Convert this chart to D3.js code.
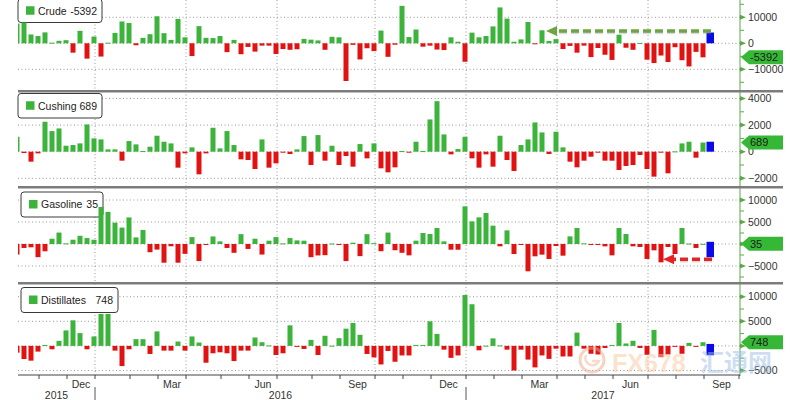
<!DOCTYPE html>
<html><head><meta charset="utf-8">
<script src="https://cdn.jsdelivr.net/npm/d3@7"></script>
<style>body{margin:0;background:#fff}svg{display:block}</style>
</head><body>
<svg id="c" width="800" height="400"></svg>
<script>
// ---------- DATA (weekly changes, thousand barrels; week-ending Fridays) ----------
const firstWeek = "2015-10-09";   // first (partly clipped) bar
const lastWeek  = "2017-08-25";   // latest report
const extraWeek = "2017-09-01";   // blue marker bar

const crude = [7600,
 8000,3400,2800,4200,250,960,1200,-3600,4800,-5900,
 2600,-5100,230,4000,8400,7800,-750,2100,3500,10400,
 3900,1300,9400,2300,-4900,6600,2100,2000,2800,-3400,
 1300,-4200,-1400,-3200,-900,-900,-4100,-2200,-2500,-2300,
 1700,1400,1100,-2500,2500,2300,-14500,-600,-6200,-1900,
 -3000,4900,-5200,-550,14400,2400,5300,-1300,-900,-2400,
 -2600,2300,600,-7100,4100,2300,2800,6500,13800,9500,
 600,1500,8200,-200,5000,900,1600,-2200,-1000,-3600,
 -900,-5300,-1800,-4400,-6400,3300,-1700,-2500,100,-6300,
 -7600,-4700,-7200,-1500,-6500,-8900,-3300,-5392];

const cushing = [1125,
 -100,-750,-125,2250,1550,1750,450,500,625,2050,
 1000,925,175,175,-675,800,550,50,375,1200,
 750,625,-1200,-125,325,-1700,-125,1800,250,1550,
 500,-575,-625,-1300,925,-1200,-875,-50,-175,175,
 1175,-1000,1250,-675,450,-1000,-325,-1125,575,-500,
 625,-1250,-1550,-1175,50,-50,750,50,2425,3800,
 1300,-200,200,1125,-500,-1200,-200,-1125,1200,-625,
 -1450,500,925,2200,1450,-175,1500,325,-750,-1175,
 -675,-375,-25,-675,-675,-1375,-1075,-1000,-250,-1300,
 -1875,-25,-1625,25,625,750,-450,689];

const gasoline = [-2400,
 -900,-750,-3000,-1650,1200,2600,150,970,1870,1350,
 970,8430,7300,4850,3730,6040,1500,3200,-1870,-1270,
 -4250,-520,-4250,-2240,1570,-3880,-100,1720,600,-900,
 -2000,2240,-1120,1200,-2400,750,1570,150,1350,820,
 750,-3000,-2600,-2540,100,-200,-3880,300,-2760,2240,
 200,-1640,2600,-1420,-2000,-2580,760,2500,2270,3640,
 600,-1300,-1300,8560,5150,6060,7050,4170,-530,3100,
 -2270,-150,-6200,-2800,-2420,-3400,-450,-2650,1740,3640,
 150,-150,-200,-530,-2580,3640,2270,-530,-680,-3400,
 -1440,-4170,-680,-2270,3640,100,-900,35];

const distillates = [-1370,
 -2670,-3000,-1160,200,-690,1030,3150,5200,2600,-690,
 1920,6500,6500,-960,-4100,-690,1370,1370,-1640,2950,
 -960,-960,890,-960,1920,685,-3420,-1500,-1300,-1500,
 -3080,-960,-960,1710,750,100,-1850,-1500,4180,-100,
 -620,1230,-1850,2050,50,1575,3500,4660,2260,-1640,
 -2330,-3770,-1030,-3220,-1940,-1940,200,200,5000,2430,
 -760,-2430,-1940,10340,8470,-900,50,1530,100,-760,
 -5000,-760,-2780,-4370,-1940,-2640,-560,-2150,-2150,2700,
 -560,-1600,-1740,-420,200,4650,490,1040,-420,-1800,
 3260,-2290,-1740,-100,-1600,620,-100,748];

const seriesNames = ["Crude","Cushing","Gasoline","Distillates"];
const lastLabels  = ["-5392","689","35","748"];
const blueLo = [0, 0, -3000, -1900];
const blueHi = [4150, 750, 500, 400];
const majorTicks = [[10000,0,-10000],[4000,2000,0,-2000],[10000,5000,0,-5000],[10000,5000,0,-5000]];
const minorTicks = [[15000,5000,-5000,-15000],[3000,1000,-1000],[7500,2500,-2500,-7500],[7500,2500,-2500]];
const arrowNotes = [
  {panel:0, from:"2017-09-02", to:"2017-03-21", value:4750, color:"#6da544"},
  {panel:2, from:"2017-09-03", to:"2017-07-16", value:-3460, color:"#e42424"}
];

// ---------- LAYOUT ----------
const FONT = "'Liberation Sans', Arial, sans-serif";
const X0 = 18, X1 = 740;
const panelBox = [
  {top:0,   bottom:90,  dom:[-10000,10000], rng:[69.3,17.3], leg:{x:18,y:-1,w:84,h:23.5}},
  {top:93,  bottom:186, dom:[-2000,4000],  rng:[178.3,98.5], leg:{x:18,y:93.5,w:84,h:24.5}},
  {top:189, bottom:282, dom:[-5000,10000], rng:[266,200],    leg:{x:21,y:192,w:82,h:25}},
  {top:285, bottom:375, dom:[-5000,10000], rng:[370.5,296.7],leg:{x:21,y:287.5,w:97,h:25}}
];
const GREEN = "#3cb43c", RED = "#e01212", BLUE = "#0a0ae6", AXG = "#5aa84a";

const svg = d3.select("#c");
const pd = d3.utcParse("%Y-%m-%d");
const x = d3.scaleUtc().domain([new Date(Date.UTC(2015,9,10)), new Date(Date.UTC(2017,9,1))]).range([X0, X1]);
const weeks = d3.utcFriday.range(pd(firstWeek), d3.utcDay.offset(pd(lastWeek),1));
const snap = d => d3.utcDay.offset(d3.utcFriday.floor(new Date(+d - 1)), 1);

const defs = svg.append("defs");
panelBox.forEach((p,i)=>{
  defs.append("clipPath").attr("id","clip"+i).append("rect")
    .attr("x",X0).attr("y",p.top).attr("width",X1-X0).attr("height",p.bottom-p.top);
});

// vertical gridlines at quarter starts (snapped to last weekly point)
const quarters = d3.utcMonth.every(3).range(x.domain()[0], new Date(Date.UTC(2017,8,1)));
svg.append("g").selectAll("line").data(quarters).join("line")
  .attr("x1",d=>x(snap(d))).attr("x2",d=>x(snap(d)))
  .attr("y1",0).attr("y2",375)
  .attr("stroke","#9a9a9a").attr("stroke-width",1).attr("stroke-dasharray","1,2.5");

const allSeries = [crude, cushing, gasoline, distillates];

panelBox.forEach((p,i)=>{
  const y = d3.scaleLinear().domain(p.dom).range(p.rng);
  const g = svg.append("g");
  // horizontal gridlines
  g.selectAll("line.h").data(majorTicks[i]).join("line")
    .attr("x1",X0).attr("x2",X1).attr("y1",d=>y(d)).attr("y2",d=>y(d))
    .attr("stroke","#9a9a9a").attr("stroke-dasharray","1,2.5");
  // legend box (under bars)
  const L = p.leg;
  g.append("rect").attr("x",L.x).attr("y",L.y).attr("width",L.w).attr("height",L.h)
    .attr("rx",3).attr("fill","#fff").attr("stroke","#3a3a3a").attr("stroke-width",1);
  g.append("rect").attr("x",L.x+8).attr("y",L.y+L.h/2-4.5).attr("width",8.5).attr("height",8.5).attr("fill",GREEN);
  g.append("text").attr("x",L.x+20).attr("y",L.y+L.h/2+3.8).attr("font-family",FONT).attr("font-size",10.5)
    .attr("fill","#222").text(seriesNames[i]);
  g.append("text").attr("x",L.x+L.w-5).attr("y",L.y+L.h/2+3.8).attr("text-anchor","end")
    .attr("font-family",FONT).attr("font-size",10.5).attr("fill","#222").text(lastLabels[i]);
  // bars
  const bars = svg.append("g").attr("clip-path","url(#clip"+i+")");
  bars.selectAll("rect").data(allSeries[i].map((v,k)=>({v, d:weeks[k]}))).join("rect")
    .attr("x",d=>x(d.d)-2.5).attr("width",5)
    .attr("y",d=>Math.min(y(d.v),y(0)))
    .attr("height",d=>Math.max(1,Math.abs(y(d.v)-y(0))))
    .attr("fill",d=>d.v>=0?GREEN:RED);
  bars.append("rect").attr("x",x(pd(extraWeek))-3.5).attr("width",7.5)
    .attr("y",y(blueHi[i])).attr("height",y(blueLo[i])-y(blueHi[i])).attr("fill",BLUE);
  // right axis ticks
  const vy = y(+lastLabels[i]);
  const ax = svg.append("g");
  ax.selectAll("path.maj").data(majorTicks[i]).join("path")
    .attr("d",d=>`M${X1},${y(d)-2.5}L${X1+6},${y(d)}L${X1},${y(d)+2.5}Z`).attr("fill",AXG);
  ax.selectAll("line.min").data(minorTicks[i].filter(v=>y(v)>p.top && y(v)<p.bottom)).join("line")
    .attr("x1",X1).attr("x2",X1+4).attr("y1",d=>y(d)).attr("y2",d=>y(d)).attr("stroke",AXG);
  // tick labels (those fully hidden behind the value tag are not shown, as in the reference)
  ax.selectAll("text").data(majorTicks[i].filter(t=>Math.abs(y(t)-vy)>5)).join("text")
    .attr("x",X1+8).attr("y",d=>y(d)).attr("dy","0.36em")
    .attr("font-family",FONT).attr("font-size",10.5).attr("fill","#333")
    .text(d=>d3.format("d")(d));
  // value tag
  ax.append("path").attr("d",`M${X1+1},${vy}L${X1+9},${vy-7}L${X1+43},${vy-7}L${X1+43},${vy+7}L${X1+9},${vy+7}Z`)
    .attr("fill","#35b835");
  ax.append("text").attr("x",X1+10).attr("y",vy).attr("dy","0.36em")
    .attr("font-family",FONT).attr("font-size",11).attr("fill","#1c1c1c").text(lastLabels[i]);
  // annotation arrows
  arrowNotes.filter(a=>a.panel===i).forEach(a=>{
    const xa = x(pd(a.from)), xb = x(pd(a.to)), ya = y(a.value);
    const an = svg.append("g");
    an.append("line").attr("x1",xa).attr("x2",xb+10).attr("y1",ya+1.5).attr("y2",ya+1.5)
      .attr("stroke","#888").attr("stroke-opacity",0.3).attr("stroke-width",3.5).attr("stroke-dasharray","8,4");
    an.append("line").attr("x1",xa).attr("x2",xb+10).attr("y1",ya).attr("y2",ya)
      .attr("stroke",a.color).attr("stroke-width",3.5).attr("stroke-dasharray","8,4");
    an.append("path").attr("d",`M${xb},${ya}L${xb+11},${ya-5}L${xb+11},${ya+5}Z`).attr("fill",a.color);
  });
});

// right axis line
svg.append("line").attr("x1",X1).attr("x2",X1).attr("y1",0).attr("y2",376).attr("stroke",AXG).attr("stroke-width",1);

// panel separators
svg.append("g").selectAll("line").data(panelBox.slice(1).map(p=>p.top-1.7)).join("line")
  .attr("x1",X0).attr("x2",783).attr("y1",d=>d).attr("y2",d=>d)
  .attr("stroke","#7c7c7c").attr("stroke-width",2.6);

// bottom time axis
const axisY = 375;
svg.append("line").attr("x1",X0).attr("x2",X1).attr("y1",axisY).attr("y2",axisY).attr("stroke","#444");
const months = d3.utcMonth.range(new Date(Date.UTC(2015,10,1)), new Date(Date.UTC(2017,9,2)));
svg.append("g").selectAll("line").data(months).join("line")
  .attr("x1",d=>x(snap(d))).attr("x2",d=>x(snap(d))).attr("y1",axisY).attr("y2",axisY+4).attr("stroke","#444");
const labelMonths = months.filter(m=>[11,2,5,8].includes(m.getUTCMonth()));
svg.append("g").selectAll("text").data(labelMonths).join("text")
  .attr("x",d=>(x(snap(d))+x(snap(d3.utcMonth.offset(d,1))))/2).attr("y",388)
  .attr("text-anchor","middle").attr("font-family",FONT).attr("font-size",10.5).attr("fill","#333")
  .text(d=>d3.utcFormat("%b")(d));
const yearStarts = [new Date(Date.UTC(2016,0,1)), new Date(Date.UTC(2017,0,1))];
const yearEdges = [X0, ...yearStarts.map(d=>x(snap(d))), X1];
const yearLabels = ["2015","2016","2017"];
svg.append("g").selectAll("text").data(yearLabels).join("text")
  .attr("x",(d,i)=>(yearEdges[i]+yearEdges[i+1])/2).attr("y",399)
  .attr("text-anchor","middle").attr("font-family",FONT).attr("font-size",10.5).attr("fill","#333").text(d=>d);
svg.append("g").selectAll("line").data(yearStarts).join("line")
  .attr("x1",d=>x(snap(d))).attr("x2",d=>x(snap(d))).attr("y1",387).attr("y2",400).attr("stroke","#555");

// watermark
const wm = svg.append("g").attr("opacity",0.5);
wm.append("circle").attr("cx",592).attr("cy",360).attr("r",12).attr("fill","none").attr("stroke","#f0a888").attr("stroke-width",3);
wm.append("path").attr("d","M586,355 A7,7 0 1 0 599,361 L592,361").attr("fill","none").attr("stroke","#f0b898").attr("stroke-width",2.5);
wm.append("text").attr("x",612).attr("y",372).attr("font-family",FONT).attr("font-weight","bold").attr("font-size",25)
  .attr("fill","#f8c89c").text("FX678");
wm.append("text").attr("x",700).attr("y",371).attr("font-family","'Noto Sans CJK SC', sans-serif").attr("font-weight","bold").attr("font-size",24)
  .attr("fill","#9fbfe6").text("汇通网");
</script>
</body></html>
